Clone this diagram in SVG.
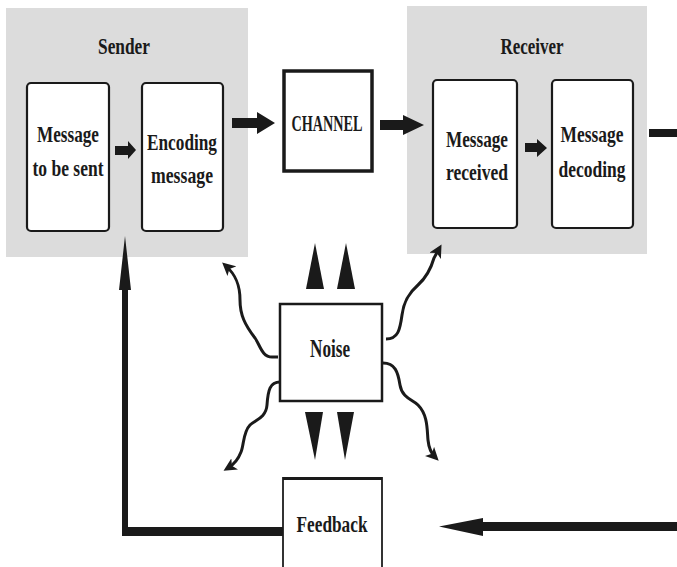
<svg xmlns="http://www.w3.org/2000/svg" width="677" height="567" viewBox="0 0 677 567">
<style>
.t{font-family:"Liberation Serif","Times New Roman",serif;font-weight:bold;font-size:24px;fill:#1a1a1a;text-anchor:middle;}
.grp{fill:#dcdcdc;stroke:none;}
.card{fill:#fff;stroke:#1a1a1a;stroke-width:2.2;}
.box{fill:#fff;stroke:#1a1a1a;stroke-width:2.5;}
.blk{fill:#1a1a1a;stroke:none;}
.wave{fill:none;stroke:#1a1a1a;stroke-width:3;marker-end:url(#ah);}
</style>
<defs>
<marker id="ah" viewBox="0 0 10 10" refX="6" refY="5" markerWidth="13" markerHeight="13" markerUnits="userSpaceOnUse" orient="auto">
<path d="M0,0 L10,5 L0,10 L2.5,5 Z" fill="#1a1a1a"/>
</marker>
</defs>
<g id="sender">
<rect class="grp" x="6" y="8" width="242" height="249"/>
<text class="t" x="124" y="54" textLength="52" lengthAdjust="spacingAndGlyphs">Sender</text>
</g>
<g id="receiver">
<rect class="grp" x="407" y="6" width="240" height="248"/>
<text class="t" x="532" y="54" textLength="63" lengthAdjust="spacingAndGlyphs">Receiver</text>
</g>
<g id="message-to-be-sent">
<rect class="card" x="27" y="83" width="82" height="148" rx="4"/>
<text class="t" x="68" y="142" textLength="62" lengthAdjust="spacingAndGlyphs">Message</text>
<text class="t" x="68" y="176" textLength="71" lengthAdjust="spacingAndGlyphs">to be sent</text>
</g>
<g id="encoding-message">
<rect class="card" x="142" y="83" width="81" height="148" rx="4"/>
<text class="t" x="182" y="150" textLength="70" lengthAdjust="spacingAndGlyphs">Encoding</text>
<text class="t" x="182" y="183" textLength="62" lengthAdjust="spacingAndGlyphs">message</text>
</g>
<g id="channel">
<rect class="box" x="284" y="71" width="88" height="100" style="stroke-width:3.5"/>
<text class="t" x="327" y="131" textLength="71" lengthAdjust="spacingAndGlyphs">CHANNEL</text>
</g>
<g id="message-received">
<rect class="card" x="433" y="80" width="84" height="148" rx="4"/>
<text class="t" x="477" y="147" textLength="62" lengthAdjust="spacingAndGlyphs">Message</text>
<text class="t" x="477" y="180" textLength="62" lengthAdjust="spacingAndGlyphs">received</text>
</g>
<g id="message-decoding">
<rect class="card" x="552" y="80" width="81" height="148" rx="4"/>
<text class="t" x="592" y="142" textLength="63" lengthAdjust="spacingAndGlyphs">Message</text>
<text class="t" x="592" y="177" textLength="67" lengthAdjust="spacingAndGlyphs">decoding</text>
</g>
<g id="noise">
<rect class="box" x="280" y="304" width="102" height="97"/>
<text class="t" x="330" y="357" textLength="40" lengthAdjust="spacingAndGlyphs" style="font-size:25px">Noise</text>
</g>
<g id="feedback">
<rect class="box" x="283" y="478" width="99" height="100" style="stroke-width:2;stroke:#333"/>
<line x1="283" y1="478.5" x2="382" y2="478.5" stroke="#1a1a1a" stroke-width="3"/>
<text class="t" x="332" y="532" textLength="71" lengthAdjust="spacingAndGlyphs">Feedback</text>
</g>
<g id="connectors">
<polygon class="blk" points="115,146 128,146 128,141 136,150 128,159 128,155 115,155"/>
<polygon class="blk" points="232,118 257,118 257,112 275,123 257,134 257,128 232,128"/>
<polygon class="blk" points="380,120 403,120 403,115 424,125 403,135 403,130 380,130"/>
<polygon class="blk" points="525,143 537,143 537,139 547,148 537,157 537,152 525,152"/>
<rect class="blk" x="649" y="129" width="28" height="8"/>
<polygon class="blk" points="306,289 324,289 315,243"/>
<polygon class="blk" points="337,289 355,289 346,243"/>
<polygon class="blk" points="305,412 323,412 315,460"/>
<polygon class="blk" points="337,412 354,412 345,460"/>
<path class="wave" d="M278,357 L272,357 C262,357 260,345 255,338 C245,325 240,315 240,300 C240,285 236,275 226,266"/>
<path class="wave" d="M386,339 C398,339 400,330 402,315 C404,300 410,292 418,285 C428,276 432,265 434,258 L439,249"/>
<path class="wave" d="M280,382 C270,382 268,390 267,405 C266,418 255,420 250,425 C243,432 244,445 241,452 C238,460 233,465 228,468"/>
<path class="wave" d="M383,363 C395,363 398,372 400,385 C402,398 413,400 418,405 C428,415 427,430 428,440 C429,450 432,454 435,457"/>
<polygon class="blk" points="122,536 283,536 283,527 128,527 128,290 131,290 125,236 119,290 122,290"/>
<polygon class="blk" points="677,522 483,522 483,518 439,526.5 483,536 483,531 677,531"/>
</g>
</svg>
